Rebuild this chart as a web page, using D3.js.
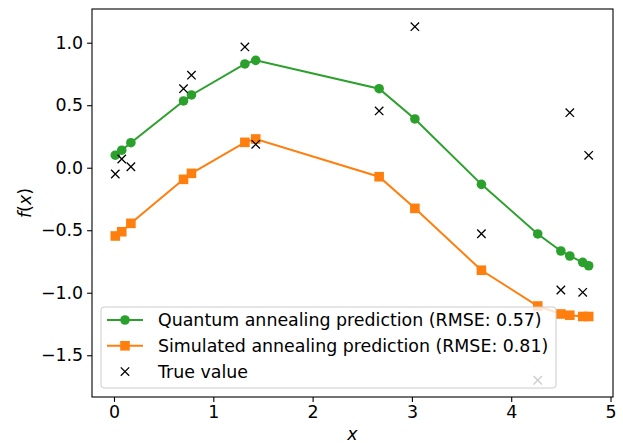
<!DOCTYPE html>
<html>
<head>
<meta charset="utf-8">
<style>
  body { margin: 0; background: #fff; }
  svg text { font-family: "DejaVu Sans", sans-serif; }
</style>
</head>
<body>
<svg width="623" height="443"></svg>
<script src="https://cdn.jsdelivr.net/npm/d3@7"></script>
<script>
// sample positions
var xs = [0.013, 0.078, 0.17, 0.70, 0.78, 1.318, 1.427, 2.67, 3.03, 3.70, 4.267, 4.50, 4.59, 4.72, 4.78];
// quantum annealing prediction
var quantum = [0.10, 0.14, 0.20, 0.534, 0.582, 0.83, 0.859, 0.632, 0.39, -0.133, -0.53, -0.666, -0.706, -0.757, -0.784];
// simulated annealing prediction
var simulated = [-0.546, -0.512, -0.445, -0.093, -0.045, 0.203, 0.23, -0.072, -0.325, -0.82, -1.106, -1.17, -1.18, -1.19, -1.19];
// true value
var truth = [-0.05, 0.07, 0.008, 0.632, 0.74, 0.966, 0.187, 0.454, 1.128, -0.528, -1.70, -0.978, 0.44, -0.997, 0.099];

var xTicks = [0, 1, 2, 3, 4, 5];
var yTicks = [1.0, 0.5, 0.0, -0.5, -1.0, -1.5];
var legendLabels = ["Quantum annealing prediction (RMSE: 0.57)",
                    "Simulated annealing prediction (RMSE: 0.81)",
                    "True value"];

var svg = d3.select("svg");
var pLeft = 92, pRight = 613, pTop = 9, pBottom = 397;
var fs = 17.4;

var x = d3.scaleLinear().domain([-0.2216, 5.025]).range([pLeft, pRight]);
var y = d3.scaleLinear().domain([-1.834, 1.2696]).range([pBottom, pTop]);

var fmtY = function(d) { return d3.format(".1f")(d).replace("-", "\u2212"); };

var xAxis = svg.append("g")
    .attr("transform", "translate(0," + pBottom + ")")
    .call(d3.axisBottom(x).tickValues(xTicks).tickSize(4.9).tickPadding(4).tickFormat(d3.format("d")));
var yAxis = svg.append("g")
    .attr("transform", "translate(" + pLeft + ",0)")
    .call(d3.axisLeft(y).tickValues(yTicks).tickSize(4.9).tickPadding(4).tickFormat(fmtY));
[xAxis, yAxis].forEach(function(a) {
  a.select(".domain").remove();
  a.selectAll("line").attr("stroke", "#000").attr("stroke-width", 1.1);
  a.selectAll("text").attr("font-size", fs).attr("fill", "#000")
    .attr("font-family", "DejaVu Sans, sans-serif");
});

// frame
svg.append("rect")
    .attr("x", pLeft).attr("y", pTop)
    .attr("width", pRight - pLeft).attr("height", pBottom - pTop)
    .attr("fill", "none").attr("stroke", "#000").attr("stroke-width", 1.1);

// axis labels
svg.append("text")
    .attr("x", (pLeft + pRight) / 2).attr("y", 440)
    .attr("text-anchor", "middle").attr("font-size", fs)
    .attr("font-style", "italic").text("x");
svg.append("text")
    .attr("transform", "translate(31," + ((pTop + pBottom) / 2) + ") rotate(-90)")
    .attr("text-anchor", "middle").attr("font-size", fs)
    .html("<tspan font-style='italic'>f</tspan>(<tspan font-style='italic'>x</tspan>)");

var line = d3.line().x(function(d) { return x(d[0]); }).y(function(d) { return y(d[1]); });
var qData = xs.map(function(v, i) { return [v, quantum[i]]; });
var sData = xs.map(function(v, i) { return [v, simulated[i]]; });
var tData = xs.map(function(v, i) { return [v, truth[i]]; });

var green = "#2ca02c", orange = "#ff7f0e";

svg.append("path").datum(qData).attr("d", line)
    .attr("fill", "none").attr("stroke", green).attr("stroke-width", 2);
svg.selectAll("circle.q").data(qData).enter().append("circle")
    .attr("cx", function(d) { return x(d[0]); })
    .attr("cy", function(d) { return y(d[1]); })
    .attr("r", 4.8).attr("fill", green);

svg.append("path").datum(sData).attr("d", line)
    .attr("fill", "none").attr("stroke", orange).attr("stroke-width", 2);
svg.selectAll("rect.s").data(sData).enter().append("rect")
    .attr("x", function(d) { return x(d[0]) - 4.8; })
    .attr("y", function(d) { return y(d[1]) - 4.8; })
    .attr("width", 9.6).attr("height", 9.6).attr("fill", orange);

function cross(g, cx, cy, r) {
  g.append("path")
    .attr("d", "M" + (cx - r) + "," + (cy - r) + "L" + (cx + r) + "," + (cy + r) +
               "M" + (cx - r) + "," + (cy + r) + "L" + (cx + r) + "," + (cy - r))
    .attr("stroke", "#000").attr("stroke-width", 1.3).attr("fill", "none");
}
var tg = svg.append("g");
tData.forEach(function(d) { cross(tg, x(d[0]), y(d[1]), 4.2); });

// legend
var lg = svg.append("g");
lg.append("rect")
    .attr("x", 101).attr("y", 307).attr("width", 455).attr("height", 81)
    .attr("rx", 3).attr("fill", "#fff").attr("fill-opacity", 0.8)
    .attr("stroke", "#cccccc").attr("stroke-width", 1);
var rows = [320, 345.8, 371.6];
var lx0 = 107, lx1 = 143, lxm = 125;
lg.append("line").attr("x1", lx0).attr("x2", lx1).attr("y1", rows[0]).attr("y2", rows[0])
    .attr("stroke", green).attr("stroke-width", 2);
lg.append("circle").attr("cx", lxm).attr("cy", rows[0]).attr("r", 4.8).attr("fill", green);
lg.append("line").attr("x1", lx0).attr("x2", lx1).attr("y1", rows[1]).attr("y2", rows[1])
    .attr("stroke", orange).attr("stroke-width", 2);
lg.append("rect").attr("x", lxm - 4.8).attr("y", rows[1] - 4.8).attr("width", 9.6).attr("height", 9.6)
    .attr("fill", orange);
cross(lg, lxm, rows[2], 4.2);
lg.selectAll("text").data(legendLabels).enter().append("text")
    .attr("x", 158).attr("y", function(d, i) { return rows[i]; })
    .attr("dy", "0.35em").attr("font-size", fs).text(function(d) { return d; });
</script>
</body>
</html>
